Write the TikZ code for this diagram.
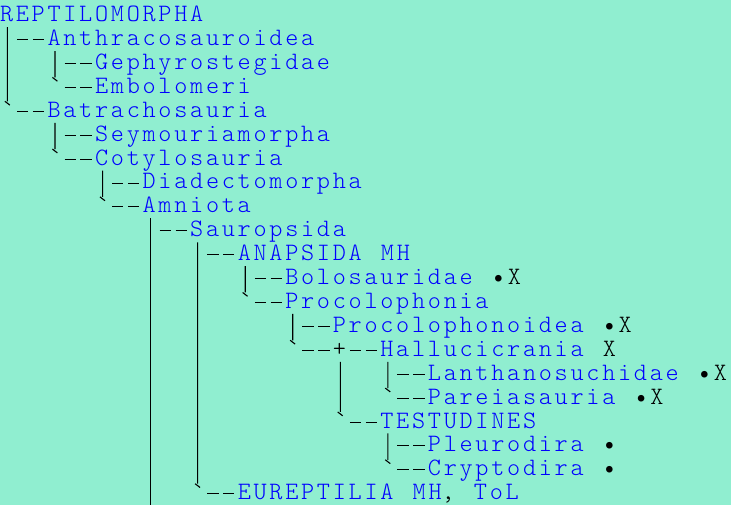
\documentclass[tikz,border=0pt]{standalone}
\usepackage{fontspec}
\usepackage{tikz}
\usetikzlibrary{calc}
\usetikzlibrary{arrows, backgrounds, positioning, arrows.meta}

\newfontfamily\treefont[LetterSpace=10.9, WordSpace={1.2076,0,0}]{lmmonolt10-regular.otf}
\definecolor{paper}{RGB}{144,238,208}
\definecolor{taxonblue}{RGB}{0,0,255}
\newcommand\ext[1]{{\color{black}#1}}

\begin{document}
\begin{tikzpicture}[x=15.85pt, y=-23.9pt,
    taxon/.style={anchor=base west, inner sep=0pt, outer sep=0pt, text=taxonblue,
      font=\fontsize{25}{23.9}\treefont},
    junction/.style={taxon, text=black},
    bar/.style={line width=1.1pt, black},
    twig/.style={line width=1pt, black, dash pattern=on 11.3pt off 4.55pt}]
  \path[use as bounding box, fill=paper] (0pt,21.7pt) rectangle (731pt,-483.3pt);

  \node[taxon] (reptilomorpha) at (0,0) {REPTILOMORPHA};
  \node[taxon] (anthracosauroidea) at (3,1) {Anthracosauroidea};
  \node[taxon] (gephyrostegidae) at (6,2) {Gephyrostegidae};
  \node[taxon] (embolomeri) at (6,3) {Embolomeri};
  \node[taxon] (batrachosauria) at (3,4) {Batrachosauria};
  \node[taxon] (seymouriamorpha) at (6,5) {Seymouriamorpha};
  \node[taxon] (cotylosauria) at (6,6) {Cotylosauria};
  \node[taxon] (diadectomorpha) at (9,7) {Diadectomorpha};
  \node[taxon] (amniota) at (9,8) {Amniota};
  \node[taxon] (sauropsida) at (12,9) {Sauropsida};
  \node[taxon] (anapsida) at (15,10) {ANAPSIDA MH};
  \node[taxon] (bolosauridae) at (18,11) {Bolosauridae \ext{•X}};
  \node[taxon] (procolophonia) at (18,12) {Procolophonia};
  \node[taxon] (procolophonoidea) at (21,13) {Procolophonoidea \ext{•X}};
  \node[junction] (knot) at (21,14) {+};
  \node[taxon] (hallucicrania) at (24,14) {Hallucicrania \ext{X}};
  \node[taxon] (lanthanosuchidae) at (27,15) {Lanthanosuchidae \ext{•X}};
  \node[taxon] (pareiasauria) at (27,16) {Pareiasauria \ext{•X}};
  \node[taxon] (testudines) at (24,17) {TESTUDINES};
  \node[taxon] (pleurodira) at (27,18) {Pleurodira \ext{•}};
  \node[taxon] (cryptodira) at (27,19) {Cryptodira \ext{•}};
  \node[taxon] (eureptilia) at (15,20) {EUREPTILIA MH\ext{,} ToL};
  \coordinate (amniotarest) at ($(sauropsida.base west)+(-2.53,11.5)$);

  \foreach \c in {anthracosauroidea, gephyrostegidae, embolomeri, batrachosauria,
      seymouriamorpha, cotylosauria, diadectomorpha, amniota, sauropsida, anapsida,
      bolosauridae, procolophonia, procolophonoidea, knot, hallucicrania,
      lanthanosuchidae, pareiasauria, testudines, pleurodira, cryptodira, eureptilia}
    \draw[twig] ($(\c.base west)+(-2,-0.25)$) ++(1.2pt,0pt) -- ++(27.2pt,0pt);

  \foreach \p/\f/\l in {reptilomorpha/anthracosauroidea/batrachosauria,
      anthracosauroidea/gephyrostegidae/embolomeri,
      batrachosauria/seymouriamorpha/cotylosauria,
      cotylosauria/diadectomorpha/amniota,
      sauropsida/anapsida/eureptilia,
      anapsida/bolosauridae/procolophonia,
      procolophonia/procolophonoidea/knot,
      knot/hallucicrania/testudines,
      hallucicrania/lanthanosuchidae/pareiasauria,
      testudines/pleurodira/cryptodira}
    \draw[bar] ($(\p.base west -| \f.base west)+(-2.53,0.23)$)
      -- ($(\l.base west -| \f.base west)+(-2.53,-0.67)$) coordinate (end)
      ++(-2.6pt,0pt) -- ++(5pt,-3.8pt);
  \draw[bar] ($(amniota.base west -| sauropsida.base west)+(-2.53,0.23)$) -- (amniotarest);
\end{tikzpicture}
\end{document}
